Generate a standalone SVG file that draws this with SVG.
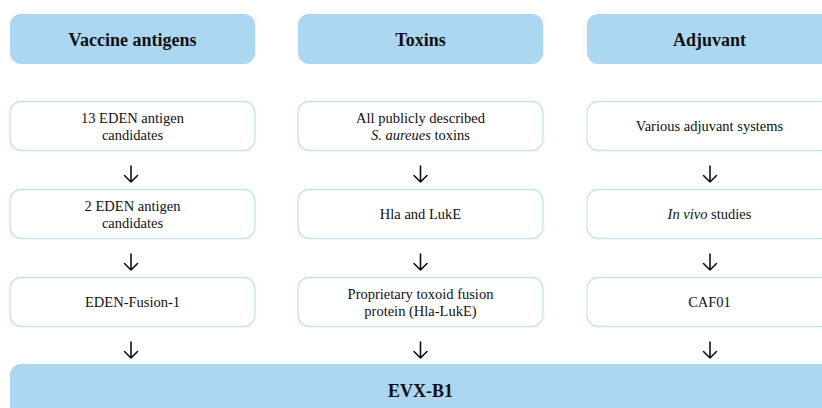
<svg xmlns="http://www.w3.org/2000/svg" width="822" height="408" viewBox="0 0 822 408">
<style>
.hdr{fill:#acd7f3;stroke:none}
.box{fill:#ffffff;stroke:#c6e2f6;stroke-width:1.3}
.ht{font-family:"Liberation Serif",serif;font-weight:bold;font-size:18px;fill:#111;text-anchor:middle}
.bt{font-family:"Liberation Serif",serif;font-size:14.5px;fill:#111;text-anchor:middle}
.arr{fill:none;stroke:#111;stroke-width:1.6;stroke-linecap:round;stroke-linejoin:round}
</style>
<rect width="822" height="408" fill="#ffffff"/>
<g id="h1"><rect class="hdr" x="10" y="14" width="245" height="50" rx="11"/><text class="ht" x="132.5" y="46">Vaccine antigens</text></g>
<g id="h2"><rect class="hdr" x="298" y="14" width="245" height="50" rx="11"/><text class="ht" x="420.5" y="46">Toxins</text></g>
<g id="h3"><rect class="hdr" x="587" y="14" width="245" height="50" rx="11"/><text class="ht" x="709.5" y="46">Adjuvant</text></g>

<g id="a1"><rect class="box" x="10" y="101.5" width="245" height="49" rx="11"/><text class="bt" x="132.5" y="123">13 EDEN antigen</text><text class="bt" x="132.5" y="140">candidates</text></g>
<g id="a2"><rect class="box" x="10" y="189.5" width="245" height="49" rx="11"/><text class="bt" x="132.5" y="211">2 EDEN antigen</text><text class="bt" x="132.5" y="228">candidates</text></g>
<g id="a3"><rect class="box" x="10" y="277.5" width="245" height="49" rx="11"/><text class="bt" x="132.5" y="307">EDEN-Fusion-1</text></g>

<g id="t1"><rect class="box" x="298" y="101.5" width="245" height="49" rx="11"/><text class="bt" x="420.5" y="123">All publicly described</text><text class="bt" x="420.5" y="140"><tspan font-style="italic">S. aureues</tspan> toxins</text></g>
<g id="t2"><rect class="box" x="298" y="189.5" width="245" height="49" rx="11"/><text class="bt" x="420.5" y="219">Hla and LukE</text></g>
<g id="t3"><rect class="box" x="298" y="277.5" width="245" height="49" rx="11"/><text class="bt" x="420.5" y="299">Proprietary toxoid fusion</text><text class="bt" x="420.5" y="316">protein (Hla-LukE)</text></g>

<g id="j1"><rect class="box" x="587" y="101.5" width="245" height="49" rx="11"/><text class="bt" x="709.5" y="131">Various adjuvant systems</text></g>
<g id="j2"><rect class="box" x="587" y="189.5" width="245" height="49" rx="11"/><text class="bt" x="709.5" y="219"><tspan font-style="italic">In vivo</tspan> studies</text></g>
<g id="j3"><rect class="box" x="587" y="277.5" width="245" height="49" rx="11"/><text class="bt" x="709.5" y="307">CAF01</text></g>

<g id="evx"><rect class="hdr" x="10" y="364" width="830" height="60" rx="11"/><text class="ht" x="420.5" y="397">EVX-B1</text></g>

<g id="connectors">
<path class="arr" d="M131 166V182M124.5 175.5L131 182L137.5 175.5"/>
<path class="arr" d="M131 254V270M124.5 263.5L131 270L137.5 263.5"/>
<path class="arr" d="M131 342V358M124.5 351.5L131 358L137.5 351.5"/>
<path class="arr" d="M420.5 166V182M414 175.5L420.5 182L427 175.5"/>
<path class="arr" d="M420.5 254V270M414 263.5L420.5 270L427 263.5"/>
<path class="arr" d="M420.5 342V358M414 351.5L420.5 358L427 351.5"/>
<path class="arr" d="M710 166V182M703.5 175.5L710 182L716.5 175.5"/>
<path class="arr" d="M710 254V270M703.5 263.5L710 270L716.5 263.5"/>
<path class="arr" d="M710 342V358M703.5 351.5L710 358L716.5 351.5"/>
</g>
</svg>
